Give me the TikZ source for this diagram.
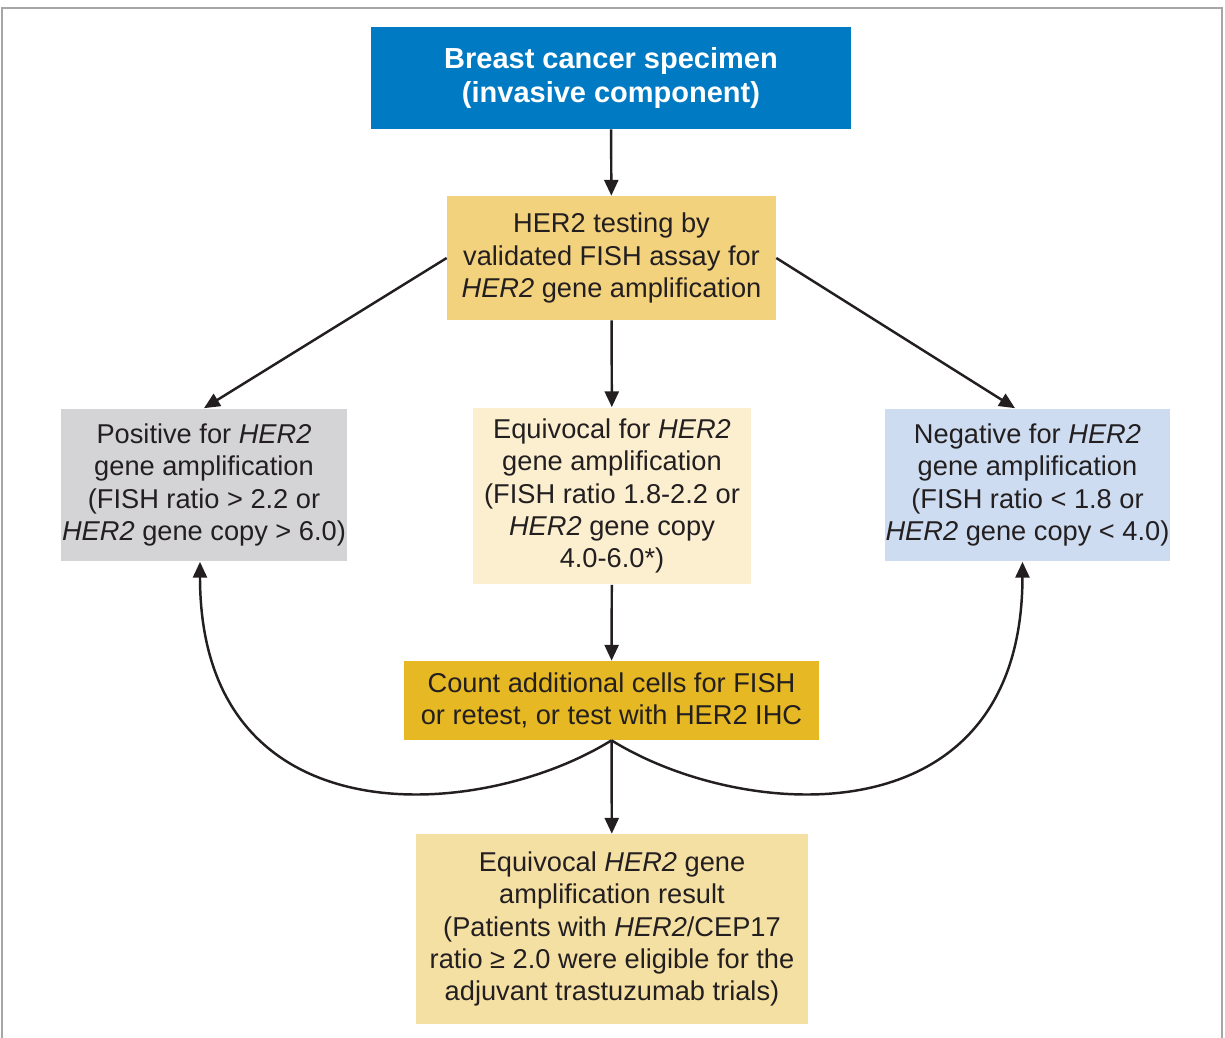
\documentclass[tikz,border=0pt]{standalone}
\usepackage{fontspec}
\setmainfont{Liberation Sans}
\usetikzlibrary{arrows.meta}
\definecolor{specblue}{RGB}{0,122,194}
\definecolor{fishtan}{RGB}{243,210,125}
\definecolor{posgray}{RGB}{212,212,214}
\definecolor{equivpale}{RGB}{251,239,208}
\definecolor{negblue}{RGB}{205,220,240}
\definecolor{countgold}{RGB}{230,184,35}
\definecolor{resulttan}{RGB}{245,224,164}
\definecolor{inkgray}{RGB}{35,31,32}
\tikzset{
  box/.style={align=center, inner sep=0pt, text=inkgray,
    font=\fontsize{15.5}{18.3}\selectfont},
  flow/.style={-{Triangle[length=9pt,width=8pt]}, line width=1.4pt, draw=inkgray}
}
\begin{document}
\begin{tikzpicture}[x=0.02cm,y=-0.02cm]
      \useasboundingbox (0,0) rectangle (1225,1038);
      \draw[gray!70, line width=1.3pt] (2,1038) -- (2,8) -- (1222,8) -- (1222,1038);
      \path
        (611,78) node[box, fill=specblue, text=white, minimum width=9.6cm, minimum height=2.04cm,
          font=\fontsize{16.5}{19.8}\selectfont\bfseries] (specimen)
          {Breast cancer specimen\\(invasive component)}
        (611.5,258) node[box, fill=fishtan, minimum width=6.58cm, minimum height=2.48cm] (fish)
          {HER2 testing by\\validated FISH assay for\\\textit{HER2} gene amplification}
        (204,485) node[box, fill=posgray, minimum width=5.72cm, minimum height=3.06cm] (positive)
          {Positive for \textit{HER2}\\gene amplification\\(FISH ratio > 2.2 or\\\textit{HER2} gene copy > 6.0)}
        (612,496) node[box, fill=equivpale, minimum width=5.56cm, minimum height=3.54cm] (equivocal)
          {Equivocal for \textit{HER2}\\gene amplification\\(FISH ratio 1.8-2.2 or\\\textit{HER2} gene copy\\4.0-6.0*)}
        (1027.5,485) node[box, fill=negblue, minimum width=5.7cm, minimum height=3.06cm] (negative)
          {Negative for \textit{HER2}\\gene amplification\\(FISH ratio < 1.8 or\\\textit{HER2} gene copy < 4.0)}
        (611.5,700.5) node[box, fill=countgold, minimum width=8.3cm, minimum height=1.58cm] (count)
          {Count additional cells for FISH\\or retest, or test with HER2 IHC}
        (612,929) node[box, fill=resulttan, minimum width=7.84cm, minimum height=3.8cm] (result)
          {Equivocal \textit{HER2} gene\\amplification result\\(Patients with \textit{HER2}/CEP17\\ratio ≥ 2.0 were eligible for the\\adjuvant trastuzumab trials)};
      \begin{scope}[flow]
        \draw (specimen) to (fish);
        \draw (fish.west) to (positive.north);
        \draw (fish) to (equivocal);
        \draw (fish.east) to ([xshift=-0.25cm]negative.north);
        \draw (equivocal) to (count);
        \draw (count) to (result);
        \draw (count.south) .. controls (480,822) and (200,842) .. ([xshift=-0.08cm]positive.south);
        \draw (count.south) .. controls (743,822) and (1022,842) .. ([xshift=-0.1cm]negative.south);
      \end{scope}
    \end{tikzpicture}
\end{document}
